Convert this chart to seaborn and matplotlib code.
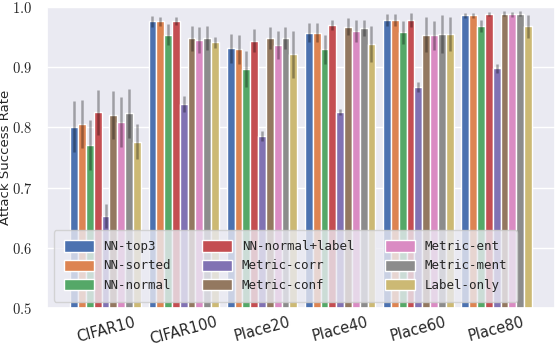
import pandas as pd
import matplotlib
matplotlib.use("Agg")
import matplotlib.pyplot as plt
import seaborn as sns

datasets = ["CIFAR10", "CIFAR100", "Place20", "Place40", "Place60", "Place80"]
attacks = ["NN-top3", "NN-sorted", "NN-normal", "NN-normal+label", "Metric-corr",
           "Metric-conf", "Metric-ent", "Metric-ment", "Label-only"]

# mean attack success rate per attack, one value per dataset
nn_top3 = [0.801, 0.976, 0.931, 0.957, 0.978, 0.986]
nn_sorted = [0.806, 0.976, 0.930, 0.957, 0.978, 0.986]
nn_normal = [0.771, 0.954, 0.897, 0.930, 0.958, 0.969]
nn_normal_label = [0.825, 0.977, 0.944, 0.970, 0.978, 0.988]
metric_corr = [0.653, 0.839, 0.786, 0.826, 0.867, 0.898]
metric_conf = [0.821, 0.948, 0.948, 0.967, 0.954, 0.989]
metric_ent = [0.809, 0.945, 0.937, 0.960, 0.953, 0.988]
metric_ment = [0.823, 0.949, 0.948, 0.965, 0.955, 0.989]
label_only = [0.776, 0.941, 0.921, 0.939, 0.955, 0.968]

# error bar half-lengths
err_nn_top3 = [0.042, 0.009, 0.024, 0.016, 0.010, 0.004]
err_nn_sorted = [0.040, 0.008, 0.024, 0.016, 0.010, 0.004]
err_nn_normal = [0.042, 0.017, 0.030, 0.024, 0.019, 0.010]
err_nn_normal_label = [0.037, 0.007, 0.019, 0.009, 0.012, 0.003]
err_metric_corr = [0.020, 0.013, 0.008, 0.005, 0.008, 0.007]
err_metric_conf = [0.040, 0.021, 0.018, 0.014, 0.029, 0.004]
err_metric_ent = [0.041, 0.021, 0.023, 0.018, 0.024, 0.004]
err_metric_ment = [0.040, 0.020, 0.018, 0.014, 0.031, 0.004]
err_label_only = [0.029, 0.009, 0.039, 0.030, 0.028, 0.019]

values = [nn_top3, nn_sorted, nn_normal, nn_normal_label, metric_corr,
          metric_conf, metric_ent, metric_ment, label_only]
errors = [err_nn_top3, err_nn_sorted, err_nn_normal, err_nn_normal_label, err_metric_corr,
          err_metric_conf, err_metric_ent, err_metric_ment, err_label_only]

rows = []
for name, vals in zip(attacks, values):
    for ds, v in zip(datasets, vals):
        rows.append({"dataset": ds, "attack": name, "rate": v})
df = pd.DataFrame(rows)

sns.set_theme(style="darkgrid", palette="deep")
plt.rcParams["mathtext.fontset"] = "cm"

fig, ax = plt.subplots(figsize=(5.56, 3.46), dpi=100)
fig.subplots_adjust(left=0.085, right=0.998, top=0.98, bottom=0.11)

sns.barplot(data=df, x="dataset", y="rate", hue="attack", hue_order=attacks,
            order=datasets, width=0.9, saturation=1, errorbar=None, ax=ax)

for cont, errs in zip(ax.containers, errors):
    for bar, e in zip(cont, errs):
        ax.errorbar(bar.get_x() + bar.get_width() / 2, bar.get_height(), yerr=e,
                    fmt="none", ecolor="black", alpha=0.32, elinewidth=1.8)

ax.set_xlim(-0.745, 5.745)
ax.set_ylim(0.5, 1.0)
yt = [0.5, 0.6, 0.7, 0.8, 0.9, 1.0]
ax.set_yticks(yt)
ax.set_yticklabels([f"${v:.1f}$" for v in yt], fontsize=10.5)
ax.tick_params(axis="y", pad=5)
ax.set_xticks(range(len(datasets)))
ax.set_xticklabels(datasets, rotation=15, fontsize=10.5)
ax.tick_params(axis="x", pad=-1)
ax.set_xlabel("")
ax.set_ylabel("Attack Success Rate", fontsize=9.5)
ax.yaxis.set_label_coords(-0.07, 0.5)

handles, labels = ax.get_legend_handles_labels()
ax.legend(handles, labels, ncol=3, loc="lower left",
          prop={"family": "DejaVu Sans Mono", "size": 9},
          handlelength=2.4, handleheight=1.0, columnspacing=2.45,
          labelspacing=0.5, borderpad=0.8)

plt.savefig("out.png", dpi=100)
